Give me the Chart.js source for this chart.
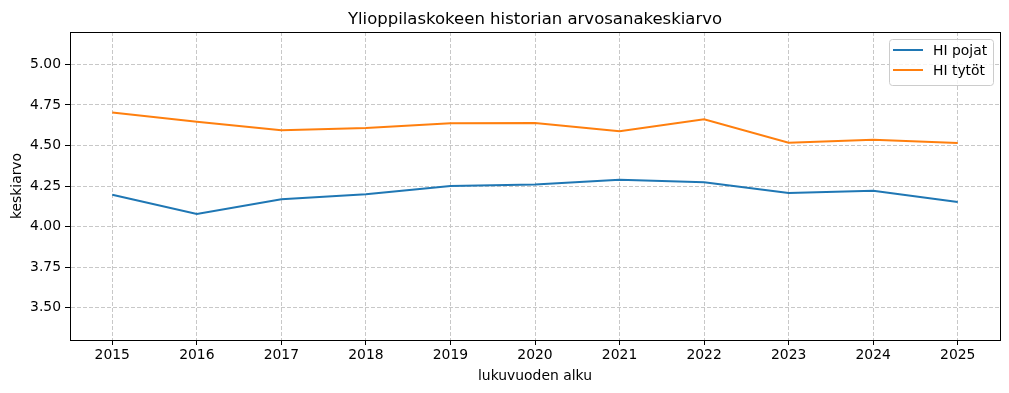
<!DOCTYPE html>
<html>
<head>
<meta charset="utf-8">
<script src="https://cdn.jsdelivr.net/npm/chart.js@4.4.1/dist/chart.umd.min.js"></script>
<style>
  html, body { margin: 0; padding: 0; background: #fff; }
  #wrap { width: 1009px; height: 393px; position: relative; }
</style>
</head>
<body>
<div id="wrap"><canvas id="c" width="1009" height="393"></canvas></div>
<script>
const years = [2015, 2016, 2017, 2018, 2019, 2020, 2021, 2022, 2023, 2024, 2025];
const pojat = [4.196, 4.077, 4.168, 4.199, 4.250, 4.260, 4.289, 4.273, 4.207, 4.221, 4.151];
const tytot = [4.703, 4.647, 4.594, 4.608, 4.637, 4.639, 4.588, 4.662, 4.517, 4.536, 4.515];
const yTicks = [3.50, 3.75, 4.00, 4.25, 4.50, 4.75, 5.00];
const xTicks = years;
const seriesNames = ['HI pojat', 'HI tytöt'];
const colors = ['#1f77b4', '#ff7f0e'];
const titleText = 'Ylioppilaskokeen historian arvosanakeskiarvo';
const xTitle = 'lukuvuoden alku';
const yTitle = 'keskiarvo';

const FONT = 'DejaVu Sans';

const framePlugin = {
  id: 'frame',
  afterDraw(chart) {
    const { ctx, chartArea: a } = chart;
    ctx.save();
    ctx.strokeStyle = '#000';
    ctx.lineWidth = 1;
    ctx.setLineDash([]);
    ctx.strokeRect(Math.round(a.left) + 0.5, Math.round(a.top) + 0.5,
                   Math.round(a.right - a.left), Math.round(a.bottom - a.top));
    // title
    ctx.fillStyle = '#000';
    ctx.font = '16.5px "' + FONT + '"';
    ctx.textAlign = 'center';
    ctx.textBaseline = 'alphabetic';
    ctx.fillText(titleText, (a.left + a.right) / 2, 24);
    // legend
    const bx = 889.5, by = 39.5, bw = 104, bh = 46, r = 3;
    ctx.beginPath();
    ctx.moveTo(bx + r, by);
    ctx.arcTo(bx + bw, by, bx + bw, by + bh, r);
    ctx.arcTo(bx + bw, by + bh, bx, by + bh, r);
    ctx.arcTo(bx, by + bh, bx, by, r);
    ctx.arcTo(bx, by, bx + bw, by, r);
    ctx.closePath();
    ctx.fillStyle = 'rgba(255,255,255,0.8)';
    ctx.fill();
    ctx.strokeStyle = '#cccccc';
    ctx.stroke();
    ctx.font = '13.9px "' + FONT + '"';
    ctx.textAlign = 'left';
    ctx.textBaseline = 'middle';
    seriesNames.forEach((n, i) => {
      const y = 50 + i * 20;
      ctx.strokeStyle = colors[i];
      ctx.lineWidth = 2;
      ctx.beginPath();
      ctx.moveTo(893, y);
      ctx.lineTo(923, y);
      ctx.stroke();
      ctx.fillStyle = '#000';
      ctx.fillText(n, 933, y + 1);
    });
    ctx.restore();
  }
};

const mk = (arr) => years.map((yr, i) => ({ x: yr, y: arr[i] }));

new Chart(document.getElementById('c'), {
  type: 'line',
  data: {
    datasets: [
      { label: seriesNames[0], data: mk(pojat), borderColor: colors[0], backgroundColor: colors[0], borderWidth: 2, pointRadius: 0, tension: 0 },
      { label: seriesNames[1], data: mk(tytot), borderColor: colors[1], backgroundColor: colors[1], borderWidth: 2, pointRadius: 0, tension: 0 }
    ]
  },
  options: {
    responsive: false,
    animation: false,
    layout: { padding: { top: 32, right: 9, left: 0, bottom: 0 } },
    plugins: {
      legend: { display: false },
      title: { display: false },
      tooltip: { enabled: false }
    },
    scales: {
      x: {
        type: 'linear',
        min: 2014.5,
        max: 2025.5,
        afterBuildTicks: (s) => { s.ticks = xTicks.map(v => ({ value: v })); },
        afterFit: (s) => { s.height = 53; },
        ticks: {
          color: '#000',
          font: { family: FONT, size: 13.9 },
          padding: 2,
          maxRotation: 0,
          autoSkip: false,
          callback: (v) => String(v)
        },
        grid: {
          color: '#c8c8c8',
          lineWidth: 1,
          drawTicks: true,
          tickLength: 5,
          tickColor: '#000',
          tickBorderDash: [],
        },
        border: { display: true, color: '#000', width: 1, dash: [4, 2] },
        title: {
          display: true,
          text: xTitle,
          color: '#000',
          font: { family: FONT, size: 13.9 },
          padding: { top: 0, bottom: 8 }
        }
      },
      y: {
        type: 'linear',
        min: 3.3,
        max: 5.2,
        afterBuildTicks: (s) => { s.ticks = yTicks.map(v => ({ value: v })); },
        afterFit: (s) => { s.width = 70; },
        ticks: {
          color: '#000',
          font: { family: FONT, size: 13.9 },
          padding: 4,
          callback: (v) => Number(v).toFixed(2)
        },
        grid: {
          color: '#c8c8c8',
          lineWidth: 1,
          drawTicks: true,
          tickLength: 5,
          tickColor: '#000',
          tickBorderDash: [],
        },
        border: { display: true, color: '#000', width: 1, dash: [4, 2] },
        title: {
          display: true,
          text: yTitle,
          color: '#000',
          font: { family: FONT, size: 13.9 },
          padding: { top: 9, bottom: 0 }
        }
      }
    }
  },
  plugins: [framePlugin]
});
</script>
</body>
</html>
